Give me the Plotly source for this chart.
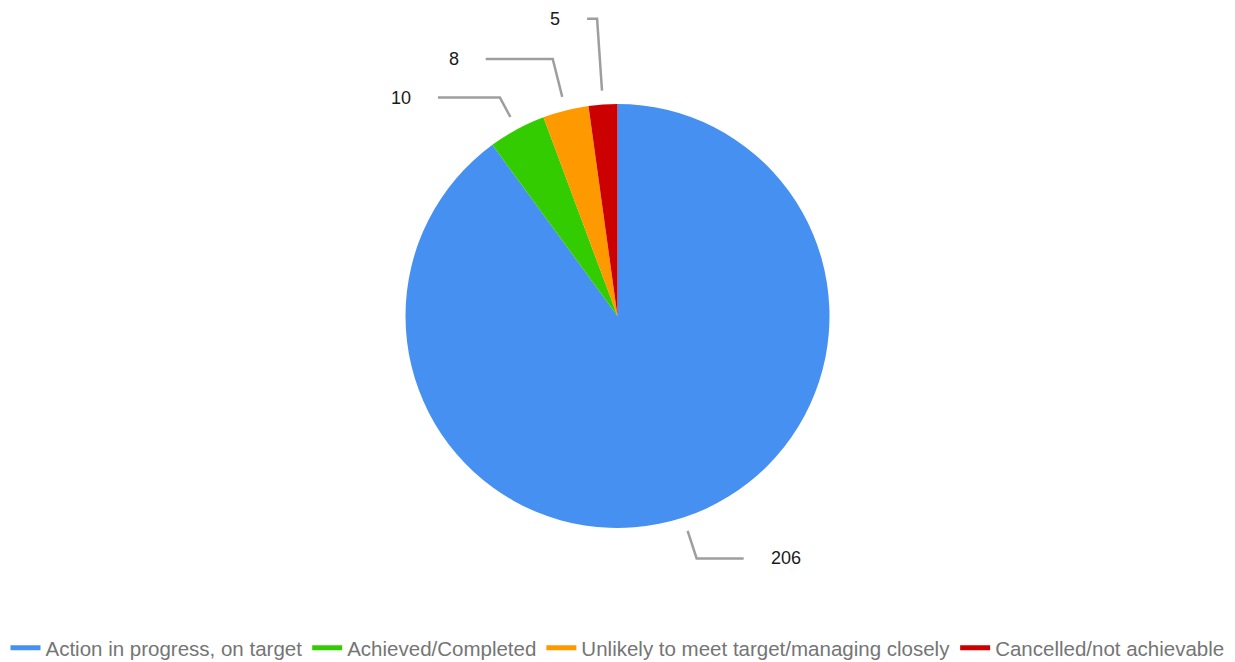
import math
import plotly.graph_objects as go

# ---- data ----
categories = ["Action in progress, on target", "Achieved/Completed",
              "Unlikely to meet target/managing closely", "Cancelled/not achievable"]
values = [206, 10, 8, 5]
colors = ["#4690F2", "#33CC00", "#FF9900", "#CC0000"]

# ---- layout / style parameters ----
W, H = 1235, 662
M_T, M_B = 104, 134
R = (H - M_T - M_B) / 2.0          # pie radius in px
CX = W / 2.0
CY = M_T + R
start_r = 1.066                    # leader start (fraction of radius)
elbow_r = [1.203, 1.17, 1.25, 1.405]  # elbow radius per slice
hlen = [47, 62, 67, 10]            # horizontal leader length (px)
label_gap = 25

fig = go.Figure()
fig.add_trace(go.Pie(
    labels=categories, values=values, sort=False, direction="clockwise",
    rotation=0, marker=dict(colors=colors, line=dict(width=0)),
    textinfo="none", hoverinfo="label+value+percent", showlegend=False,
    domain=dict(x=[0, 1], y=[0, 1]),
))

# legend entries drawn as line symbols
for c, col in zip(categories, colors):
    fig.add_trace(go.Scatter(x=[None], y=[None], mode="lines", name=c,
                             line=dict(color=col, width=5), hoverinfo="skip"))


def to_paper(px, py):
    return px / W, (H - M_B - py) / (H - M_T - M_B)


shapes, annotations = [], []
total = sum(values)
cum = 0
for i, v in enumerate(values):
    mid = (cum + v / 2.0) / total * 2 * math.pi
    cum += v
    dx, dy = math.sin(mid), -math.cos(mid)
    x0, y0 = CX + dx * R * start_r, CY + dy * R * start_r
    x1, y1 = CX + dx * R * elbow_r[i], CY + dy * R * elbow_r[i]
    side = 1 if dx >= 0 else -1
    x2 = x1 + side * hlen[i]
    pts = [to_paper(x0, y0), to_paper(x1, y1), to_paper(x2, y1)]
    path = "M {} {} L {} {} L {} {}".format(pts[0][0], pts[0][1], pts[1][0], pts[1][1],
                                             pts[2][0], pts[2][1])
    shapes.append(dict(type="path", path=path, xref="paper", yref="paper",
                       line=dict(color="#9E9E9E", width=2.5)))
    lx, ly = to_paper(x2 + side * label_gap, y1)
    annotations.append(dict(x=lx, y=ly, xref="paper", yref="paper", text=str(v),
                            showarrow=False, xanchor="left" if side > 0 else "right",
                            yanchor="middle",
                            font=dict(size=18, color="#1a1a1a",
                                      family="Liberation Sans, Arial, sans-serif")))

fig.update_layout(
    width=W, height=H,
    margin=dict(l=0, r=0, t=M_T, b=M_B, autoexpand=False),
    paper_bgcolor="white", plot_bgcolor="white",
    xaxis=dict(visible=False), yaxis=dict(visible=False),
    shapes=shapes, annotations=annotations,
    legend=dict(orientation="h", x=0.5, xanchor="center", y=to_paper(0, 648)[1],
                yanchor="middle", font=dict(size=20.5, color="#757575",
                                            family="Liberation Sans, Arial, sans-serif"),
                itemwidth=30, tracegroupgap=0, bgcolor="rgba(0,0,0,0)"),
    showlegend=True,
)

fig.write_html("out.html")
